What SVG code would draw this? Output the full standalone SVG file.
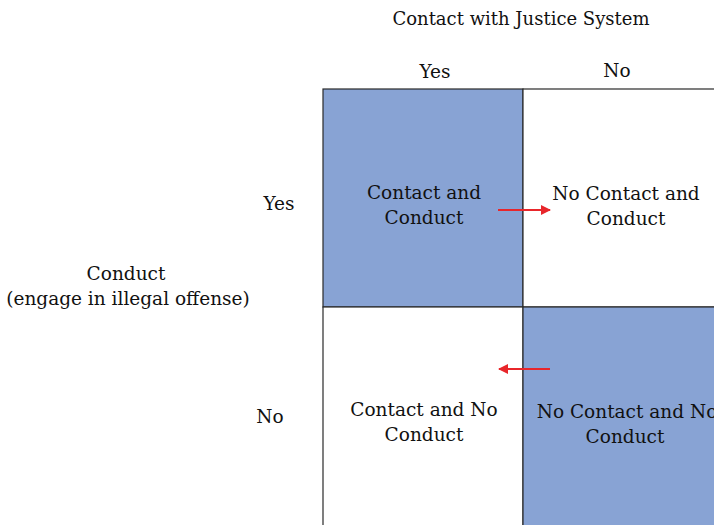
<svg xmlns="http://www.w3.org/2000/svg" width="714" height="525" viewBox="0 0 714 525">
<style>
text{font-family:"DejaVu Serif","Liberation Serif",serif;font-size:18.5px;fill:#111;text-anchor:middle}
.cell{stroke:#2a2a2a;stroke-width:1.2}
.blue{fill:#88a3d4}
.white{fill:#fff}
.arr{stroke:#e8262b;stroke-width:2;fill:none}
</style>
<defs>
<marker id="ah" viewBox="0 0 10 10" refX="9" refY="5" markerWidth="5" markerHeight="5" orient="auto" markerUnits="strokeWidth">
<path d="M0,0 L10,5 L0,10 z" fill="#e8262b"/>
</marker>
</defs>
<rect width="714" height="525" fill="#fff"/>
<g id="header">
<text x="521" y="25" style="font-size:18px">Contact with Justice System</text>
<text x="435" y="78">Yes</text>
<text x="617" y="77">No</text>
</g>
<g id="rowlabels">
<text x="279" y="210">Yes</text>
<text x="270" y="423">No</text>
<text x="126" y="280">Conduct</text>
<text x="128" y="305">(engage in illegal offense)</text>
</g>
<g id="cell-contact-conduct">
<rect class="cell blue" x="323" y="89" width="200" height="218"/>
<text x="424" y="199">Contact and</text>
<text x="424" y="224">Conduct</text>
</g>
<g id="cell-nocontact-conduct">
<rect class="cell white" x="523" y="89" width="200" height="218"/>
<text x="626" y="200">No Contact and</text>
<text x="626" y="225">Conduct</text>
</g>
<g id="cell-contact-noconduct">
<rect class="cell white" x="323" y="307" width="200" height="230"/>
<text x="424" y="416">Contact and No</text>
<text x="424" y="441">Conduct</text>
</g>
<g id="cell-nocontact-noconduct">
<rect class="cell blue" x="523" y="307" width="200" height="230"/>
<text x="627" y="418">No Contact and No</text>
<text x="625" y="443">Conduct</text>
</g>
<g id="connectors">
<line class="arr" x1="498" y1="210" x2="550" y2="210" marker-end="url(#ah)"/>
<line class="arr" x1="550" y1="369" x2="499" y2="369" marker-end="url(#ah)"/>
</g>
</svg>
